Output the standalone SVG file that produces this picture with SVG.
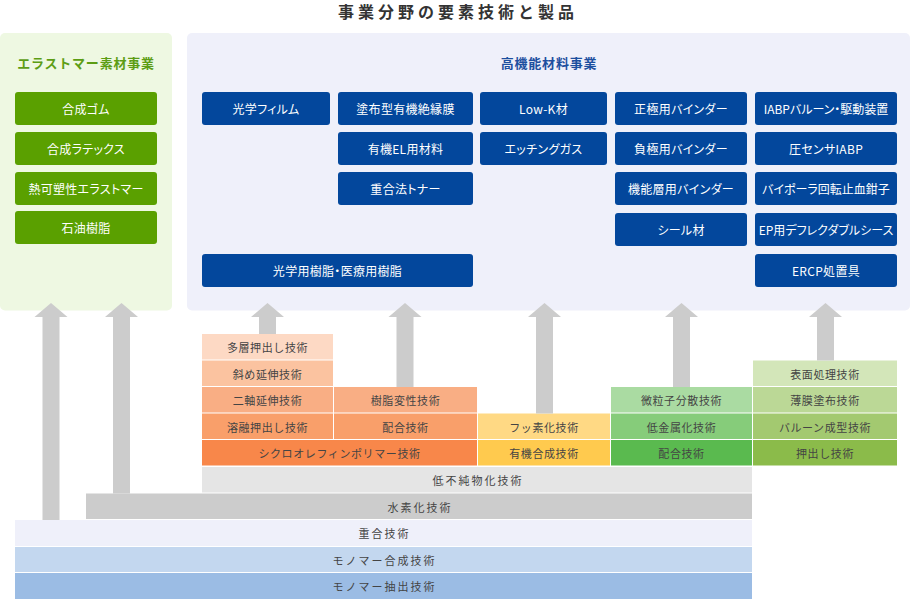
<svg xmlns="http://www.w3.org/2000/svg" width="912" height="599" viewBox="0 0 912 599">
<style>
text{font-family:"Noto Sans CJK JP","Noto Sans",sans-serif;text-anchor:middle;dominant-baseline:central}
.title{font-size:16px;font-weight:bold;fill:#333;letter-spacing:4px}
.ptl{font-size:13px;font-weight:bold;letter-spacing:0.8px}
.gb{fill:#5aa000}
.bb{fill:#03479c}
.bt{font-size:12px;fill:#fff;letter-spacing:0.3px;font-feature-settings:"palt"}
.tt{font-size:11px;fill:#444;letter-spacing:0.6px}
.bt2{font-size:11px;fill:#444;letter-spacing:2px}
.arr{fill:#cccccc}
</style>
<text x="458" y="11" class="title">事業分野の要素技術と製品</text>

<g id="panel-elastomer">
<rect x="0" y="33" width="172" height="277.5" rx="5" fill="#eef8e2"/>
<text x="86" y="62" class="ptl" fill="#5c9d14">エラストマー素材事業</text>
</g>
<g id="panel-highfunc">
<rect x="187" y="33" width="723" height="277.5" rx="5" fill="#eff0fa"/>
<text x="549" y="62" class="ptl" fill="#1d4f9f">高機能材料事業</text>
</g>

<g id="p-gomu"><rect class="gb" x="15" y="92" width="142" height="33" rx="3"/><text class="bt" x="86" y="108.5">合成ゴム</text></g>
<g id="p-latex"><rect class="gb" x="15" y="132" width="142" height="33" rx="3"/><text class="bt" x="86" y="148.5">合成ラテックス</text></g>
<g id="p-tpe"><rect class="gb" x="15" y="172" width="142" height="33" rx="3"/><text class="bt" x="86" y="188.5">熱可塑性エラストマー</text></g>
<g id="p-petro"><rect class="gb" x="15" y="211" width="142" height="33" rx="3"/><text class="bt" x="86" y="227.5">石油樹脂</text></g>

<g id="p-film"><rect class="bb" x="202" y="92" width="128" height="33" rx="3"/><text class="bt" x="266" y="108.5">光学フィルム</text></g>
<g id="p-insul"><rect class="bb" x="338" y="92" width="135" height="33" rx="3"/><text class="bt" x="405.5" y="108.5">塗布型有機絶縁膜</text></g>
<g id="p-oel"><rect class="bb" x="338" y="132" width="135" height="33" rx="3"/><text class="bt" x="405.5" y="148.5">有機EL用材料</text></g>
<g id="p-toner"><rect class="bb" x="338" y="172" width="135" height="33" rx="3"/><text class="bt" x="405.5" y="188.5">重合法トナー</text></g>
<g id="p-resin"><rect class="bb" x="202" y="254" width="271" height="33" rx="3"/><text class="bt" x="337.5" y="270.5">光学用樹脂・医療用樹脂</text></g>
<g id="p-lowk"><rect class="bb" x="480" y="92" width="127" height="33" rx="3"/><text class="bt" x="543.5" y="108.5">Low-K材</text></g>
<g id="p-etch"><rect class="bb" x="480" y="132" width="127" height="33" rx="3"/><text class="bt" x="543.5" y="148.5">エッチングガス</text></g>
<g id="p-pos"><rect class="bb" x="615" y="92" width="132" height="33" rx="3"/><text class="bt" x="681" y="108.5">正極用バインダー</text></g>
<g id="p-neg"><rect class="bb" x="615" y="132" width="132" height="33" rx="3"/><text class="bt" x="681" y="148.5">負極用バインダー</text></g>
<g id="p-func"><rect class="bb" x="615" y="172" width="132" height="33" rx="3"/><text class="bt" x="681" y="188.5">機能層用バインダー</text></g>
<g id="p-seal"><rect class="bb" x="615" y="213" width="132" height="33" rx="3"/><text class="bt" x="681" y="229.5">シール材</text></g>
<g id="p-iabp"><rect class="bb" x="755" y="92" width="142" height="33" rx="3"/><text class="bt" x="826" y="108.5" style="letter-spacing:0">IABPバルーン・駆動装置</text></g>
<g id="p-sensor"><rect class="bb" x="755" y="132" width="142" height="33" rx="3"/><text class="bt" x="826" y="148.5">圧センサIABP</text></g>
<g id="p-bipolar"><rect class="bb" x="755" y="172" width="142" height="33" rx="3"/><text class="bt" x="826" y="188.5" style="letter-spacing:0">バイポーラ回転止血鉗子</text></g>
<g id="p-ep"><rect class="bb" x="755" y="213" width="142" height="33" rx="3"/><text class="bt" x="826" y="229.5" style="letter-spacing:0">EP用デフレクダブルシース</text></g>
<g id="p-ercp"><rect class="bb" x="755" y="254" width="142" height="33" rx="3"/><text class="bt" x="826" y="270.5">ERCP処置具</text></g>

<g id="t-multi"><rect x="202" y="334" width="131" height="25.5" fill="#fdd9c4"/><text class="tt" x="267.5" y="347">多層押出し技術</text></g>
<g id="t-diag"><rect x="202" y="360.5" width="131" height="25.5" fill="#fbc3a0"/><text class="tt" x="267.5" y="373.5">斜め延伸技術</text></g>
<g id="t-biax"><rect x="202" y="387" width="131" height="25.5" fill="#f9ae84"/><text class="tt" x="267.5" y="400">二軸延伸技術</text></g>
<g id="t-modify"><rect x="334" y="387" width="143" height="25.5" fill="#f9ae84"/><text class="tt" x="405.5" y="400">樹脂変性技術</text></g>
<g id="t-melt"><rect x="202" y="413.5" width="131" height="25.5" fill="#f99f6a"/><text class="tt" x="267.5" y="426.5">溶融押出し技術</text></g>
<g id="t-comp1"><rect x="334" y="413.5" width="143" height="25.5" fill="#f99f6a"/><text class="tt" x="405.5" y="426.5">配合技術</text></g>
<g id="t-cop"><rect x="202" y="440" width="275" height="25.5" fill="#f8874a"/><text class="tt" x="339.5" y="453">シクロオレフィンポリマー技術</text></g>
<g id="t-fluor"><rect x="478" y="413.5" width="132" height="25.5" fill="#ffd984"/><text class="tt" x="544" y="426.5">フッ素化技術</text></g>
<g id="t-orgsyn"><rect x="478" y="440" width="132" height="25.5" fill="#ffca4e"/><text class="tt" x="544" y="453">有機合成技術</text></g>
<g id="t-disp"><rect x="611" y="387" width="141" height="25.5" fill="#aadba2"/><text class="tt" x="681.5" y="400">微粒子分散技術</text></g>
<g id="t-lowmetal"><rect x="611" y="413.5" width="141" height="25.5" fill="#86cc7a"/><text class="tt" x="681.5" y="426.5">低金属化技術</text></g>
<g id="t-comp2"><rect x="611" y="440" width="141" height="25.5" fill="#5aba4f"/><text class="tt" x="681.5" y="453">配合技術</text></g>
<g id="t-surf"><rect x="753" y="360.5" width="144" height="25.5" fill="#d3e6b9"/><text class="tt" x="825" y="373.5">表面処理技術</text></g>
<g id="t-thin"><rect x="753" y="387" width="144" height="25.5" fill="#bbd896"/><text class="tt" x="825" y="400">薄膜塗布技術</text></g>
<g id="t-balloon"><rect x="753" y="413.5" width="144" height="25.5" fill="#a3c970"/><text class="tt" x="825" y="426.5">バルーン成型技術</text></g>
<g id="t-extr"><rect x="753" y="440" width="144" height="25.5" fill="#8bbb4a"/><text class="tt" x="825" y="453">押出し技術</text></g>

<g id="b-lowimp"><rect x="202" y="467" width="550" height="25.5" fill="#e5e5e5"/><text class="bt2" x="478" y="480">低不純物化技術</text></g>
<g id="b-hydro"><rect x="86" y="493.5" width="666" height="25.5" fill="#cccccc"/><text class="bt2" x="420" y="506.5">水素化技術</text></g>
<g id="b-poly"><rect x="15" y="520" width="737" height="26" fill="#eff0fa"/><text class="bt2" x="384.5" y="533">重合技術</text></g>
<g id="b-monosyn"><rect x="15" y="547" width="737" height="25" fill="#c3d7ef"/><text class="bt2" x="384.5" y="559.5">モノマー合成技術</text></g>
<g id="b-monoext"><rect x="15" y="573" width="737" height="26" fill="#9bbce4"/><text class="bt2" x="384.5" y="586">モノマー抽出技術</text></g>

<g id="connectors" class="arr">
<polygon points="51,303 67.5,317 59.5,317 59.5,520 42.5,520 42.5,317 34.5,317"/>
<polygon points="121.5,303 138,317 130,317 130,493.5 113,493.5 113,317 105,317"/>
<polygon points="267.5,303 284,317 276,317 276,334 259,334 259,317 251,317"/>
<polygon points="405,303 421.5,317 413.5,317 413.5,387 396.5,387 396.5,317 388.5,317"/>
<polygon points="544.5,303 561,317 553,317 553,413.5 536,413.5 536,317 528,317"/>
<polygon points="681.5,303 698,317 690,317 690,387 673,387 673,317 665,317"/>
<polygon points="825.5,303 842,317 834,317 834,360.5 817,360.5 817,317 809,317"/>
</g>
</svg>
